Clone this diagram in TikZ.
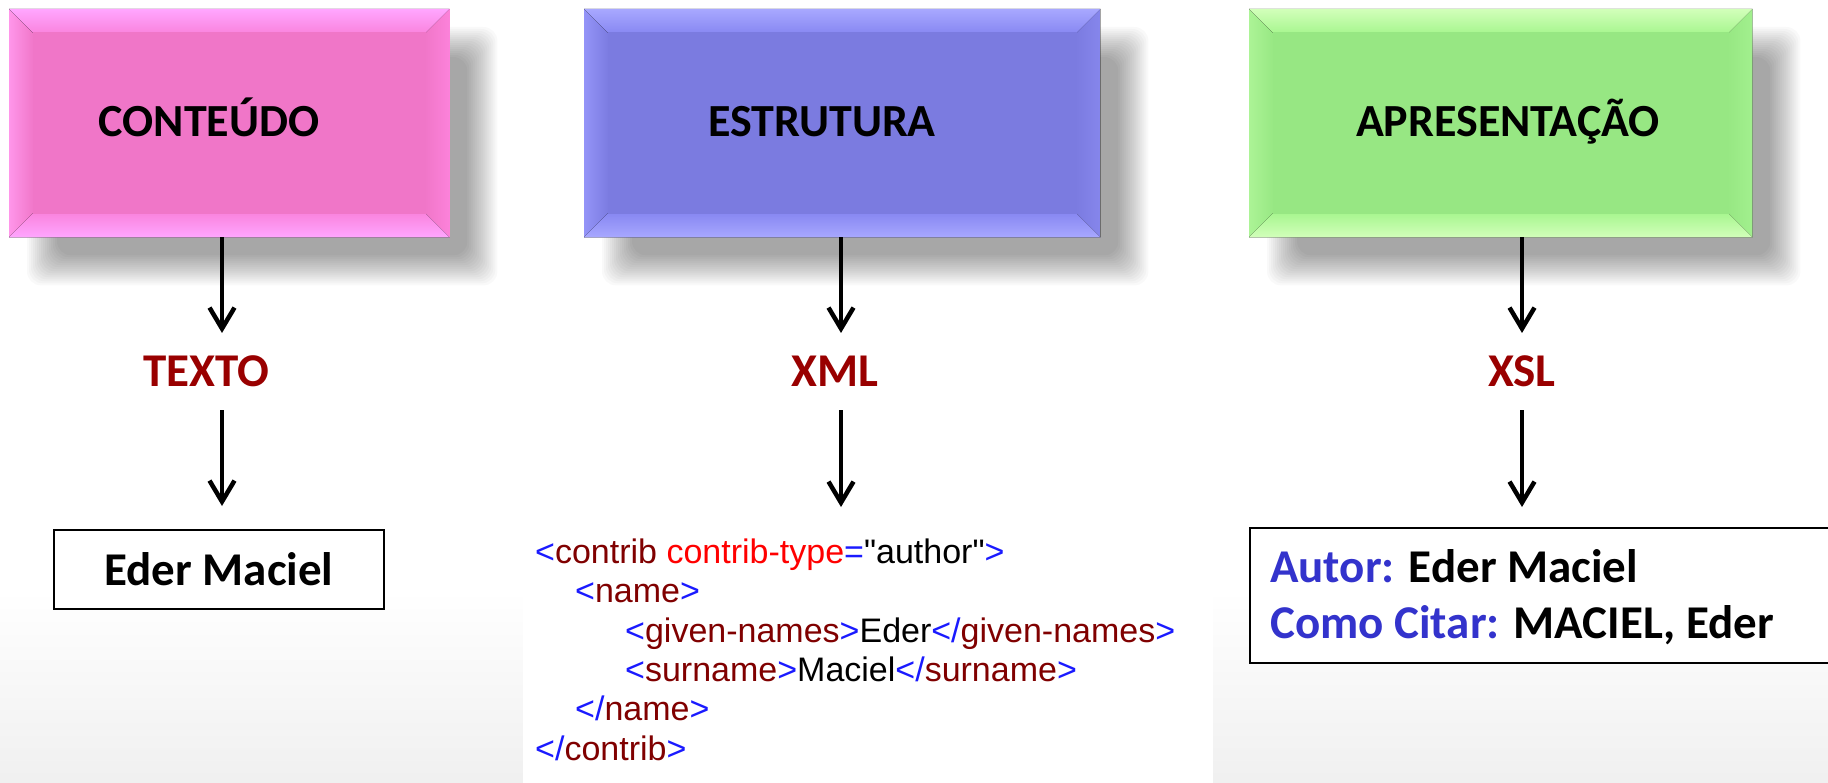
\documentclass[tikz,border=0pt]{standalone}
\usepackage{fontspec}
\setmainfont{Carlito}
\newfontfamily\codefont{Liberation Sans}
\usetikzlibrary{arrows.meta,calc}

\pgfdeclarelayer{page}
\pgfdeclarelayer{shade}
\pgfsetlayers{page,shade,main}

\definecolor{pinkface}{HTML}{F076C8}
\definecolor{pinklite}{HTML}{FFA6FF}
\definecolor{pinkmid}{HTML}{FA84DE}
\definecolor{pinkside}{HTML}{FF96EA}
\definecolor{pinkright}{HTML}{FC82DA}
\definecolor{blueface}{HTML}{7B7BE0}
\definecolor{bluelite}{HTML}{A8A8FF}
\definecolor{bluemid}{HTML}{8888F2}
\definecolor{blueside}{HTML}{9494F8}
\definecolor{blueright}{HTML}{8686EC}
\definecolor{greenface}{HTML}{97E783}
\definecolor{greenlite}{HTML}{D2FFBA}
\definecolor{greenmid}{HTML}{A8F690}
\definecolor{greenside}{HTML}{ACF496}
\definecolor{greenright}{HTML}{A2F08E}
\definecolor{labelred}{HTML}{990000}
\definecolor{keyblue}{HTML}{3333CC}
\definecolor{xmlblue}{HTML}{1A1AFF}
\definecolor{xmltag}{HTML}{800000}
\definecolor{xmlattr}{HTML}{FF0000}

% XML syntax colouring
\newcommand\xbl[1]{\textcolor{xmlblue}{#1}}
\newcommand\xtg[1]{\textcolor{xmltag}{#1}}
\newcommand\xat[1]{\textcolor{xmlattr}{#1}}

% bevelled faces of a box node: #1 node, #2 top edge, #3 top inner,
% #4 bottom inner, #5 bottom edge, #6 left edge, #7 right edge, #8 face
\newcommand\bevelfaces[8]{%
  \fill[left color=#6, right color=#8] (#1.north west) -- ($(#1.north west)+(25,25)$)
    -- ($(#1.south west)+(25,-25)$) -- (#1.south west) -- cycle;
  \fill[left color=#8, right color=#7] (#1.north east) -- ($(#1.north east)+(-25,25)$)
    -- ($(#1.south east)+(-25,-25)$) -- (#1.south east) -- cycle;
  \fill[top color=#2, bottom color=#3] (#1.north west) -- (#1.north east)
    -- ($(#1.north east)+(-24,24)$) -- ($(#1.north west)+(24,24)$) -- cycle;
  \fill[top color=#4, bottom color=#5] (#1.south west) -- (#1.south east)
    -- ($(#1.south east)+(-24,-24)$) -- ($(#1.south west)+(24,-24)$) -- cycle;
  \fill[#8] ($(#1.north west)+(23.5,23.5)$) rectangle ($(#1.south east)+(-23.5,-23.5)$);
}

% soft drop shadow below and right of a box node, built from faint layers
\newcommand\softshadow[1]{%
  \begin{pgfonlayer}{shade}
  \foreach \r in {-15,-13,...,15} {
    \fill[black, opacity=0.022, rounded corners=14pt]
      ($(#1.north west)+(33-\r,33-\r)$) rectangle ($(#1.south east)+(33+\r,33+\r)$);
  }
  \end{pgfonlayer}
}

\tikzset{
  card/.style={rectangle, inner sep=0pt, anchor=north west, minimum height=228pt},
  titletxt/.style={anchor=base, inner sep=0pt, font=\bfseries\fontsize{46}{50}\selectfont},
  labeltxt/.style={anchor=base, inner sep=0pt, text=labelred,
    font=\bfseries\fontsize{47}{50}\selectfont},
  arr/.style={line width=4.5pt, -{Straight Barb[length=21pt,width=25pt]}},
  resultbox/.style={draw, line width=2pt, fill=white, inner sep=0pt},
  resulttxt/.style={anchor=base west, inner sep=0pt, font=\bfseries\fontsize{47}{50}\selectfont},
  codeline/.style={anchor=base west, inner sep=0pt, font=\codefont\fontsize{34}{39}\selectfont},
}

\begin{document}
\begin{tikzpicture}[x=1pt,y=-1pt]
\useasboundingbox (0,0) rectangle (1828,783);

% background: white fading to light grey at the foot
\begin{pgfonlayer}{page}
\fill[white] (0,0) rectangle (1828,783);
\shade[top color=white, bottom color=black!6] (0,590) rectangle (1828,783);
\fill[white] (523,520) rectangle (1213,783);
\end{pgfonlayer}

% three bevelled boxes
\node[card, fill=pinkmid, minimum width=440pt] (conteudo) at (9,9) {};
\softshadow{conteudo}
\bevelfaces{conteudo}{pinklite}{pinkmid}{pinkmid}{pinklite}{pinkside}{pinkright}{pinkface}
\node[titletxt] (t-conteudo) at (209,137) {CONTEÚDO};

\node[card, fill=bluemid, minimum width=516pt] (estrutura) at (584,9) {};
\softshadow{estrutura}
\bevelfaces{estrutura}{bluelite}{bluemid}{bluemid}{bluelite}{blueside}{blueright}{blueface}
\node[titletxt] (t-estrutura) at (822,137) {ESTRUTURA};

\node[card, fill=greenmid, minimum width=503pt] (apresentacao) at (1249,9) {};
\softshadow{apresentacao}
\bevelfaces{apresentacao}{greenlite}{greenmid}{greenmid}{greenlite}{greenside}{greenright}{greenface}
\node[titletxt] (t-apresentacao) at (1508,137) {APRESENTAÇÃO};

% technology labels
\node[labeltxt] (texto) at (206,387) {TEXTO};
\node[labeltxt] (xml) at (835,387) {XML};
\node[labeltxt] (xsl) at (1522,387) {XSL};

% arrow guide points
\coordinate (a1) at (222,333);  \coordinate (b1) at (222,410);
\coordinate (a2) at (841,333);  \coordinate (b2) at (841,410);  \coordinate (c2) at (841,507);
\coordinate (a3) at (1522,333); \coordinate (b3) at (1522,410);

% results
\node[resultbox, minimum width=330pt, minimum height=79pt,
      font=\bfseries\fontsize{47}{50}\selectfont] (eder) at (219,569.5) {Eder Maciel};

\node[resultbox, anchor=north west, minimum width=620pt, minimum height=135pt] (xslbox) at (1249,527) {};
\node[resulttxt] (autor) at (1270,582) {\textcolor{keyblue}{Autor:} Eder Maciel};
\node[resulttxt] (citar) at (1270,638) {\textcolor{keyblue}{Como Citar:} MACIEL, Eder};

\node[codeline] (x1) at (535,563) {\xbl{<}\xtg{contrib} \xat{contrib-type}\xbl{=}"author"\xbl{>}};
\node[codeline] (x2) at (575,602) {\xbl{<}\xtg{name}\xbl{>}};
\node[codeline] (x3) at (625,642) {\xbl{<}\xtg{given-names}\xbl{>}Eder\xbl{</}\xtg{given-names}\xbl{>}};
\node[codeline] (x4) at (625,681) {\xbl{<}\xtg{surname}\xbl{>}Maciel\xbl{</}\xtg{surname}\xbl{>}};
\node[codeline] (x5) at (575,720) {\xbl{</}\xtg{name}\xbl{>}};
\node[codeline] (x6) at (535,760) {\xbl{</}\xtg{contrib}\xbl{>}};

% arrows
\draw[arr] (conteudo.south -| a1) -- (a1);
\draw[arr, shorten >=23pt] (b1) -- (eder.north -| b1);
\draw[arr] (estrutura.south -| a2) -- (a2);
\draw[arr] (b2) -- (c2);
\draw[arr] (apresentacao.south -| a3) -- (a3);
\draw[arr, shorten >=20pt] (b3) -- (xslbox.north -| b3);
\end{tikzpicture}
\end{document}
